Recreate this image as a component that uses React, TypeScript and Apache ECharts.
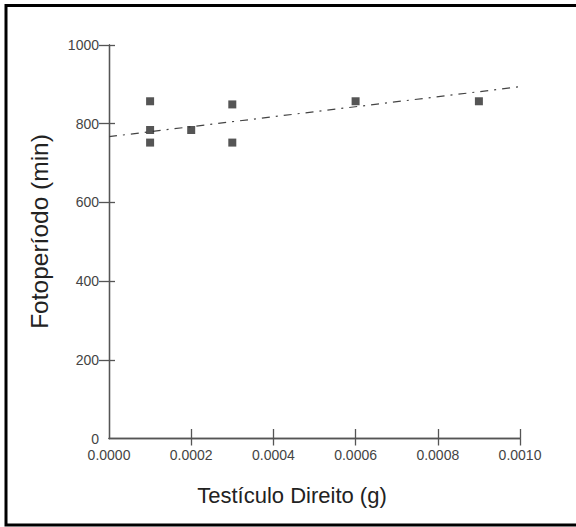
import React, { useEffect, useRef } from "react";
import * as echarts from "echarts";

const pointsX: number[] = [0.0001, 0.0001, 0.0001, 0.0002, 0.0003, 0.0003, 0.0006, 0.0009];
const pointsY: number[] = [857, 784, 752, 784, 849, 752, 857, 857];
const trendX: number[] = [0, 0.001];
const trendY: number[] = [767, 894];
const xTickValues: number[] = [0.0002, 0.0004, 0.0006, 0.0008, 0.001];
const yTickValues: number[] = [200, 400, 600, 800, 1000];
const xTitle = "Testículo Direito (g)";
const yTitle = "Fotoperíodo (min)";

const FONT = "'Liberation Sans', Arial, sans-serif";

export default function App() {
  const ref = useRef<HTMLDivElement>(null);
  useEffect(() => {
    if (!ref.current) return;
    const chart = echarts.init(ref.current, undefined, { renderer: "svg" });
    const grid = { left: 109, top: 45, right: 56, bottom: 88.5, containLabel: false };
    const axisLine = { show: true, lineStyle: { color: "#555", width: 1.3 } };
    const tickStyle = { color: "#555", width: 1.3 };
    const baseX = {
      type: "value" as const,
      min: 0,
      max: 0.001,
      interval: 0.0002,
      splitLine: { show: false },
      axisLine,
    };
    const baseY = {
      type: "value" as const,
      min: 0,
      max: 1000,
      interval: 200,
      splitLine: { show: false },
      axisLine,
    };
    chart.setOption({
      animation: false,
      backgroundColor: "#ffffff",
      grid: [grid, { ...grid }],
      xAxis: [
        {
          ...baseX,
          gridIndex: 0,
          axisTick: { show: true, inside: false, length: 7, customValues: xTickValues, lineStyle: tickStyle },
          axisLabel: {
            margin: 9,
            color: "#444",
            fontSize: 14,
            fontFamily: FONT,
            formatter: (v: number) => v.toFixed(4),
          },
        },
        {
          ...baseX,
          gridIndex: 1,
          axisTick: { show: true, inside: true, length: 9.5, customValues: xTickValues, lineStyle: tickStyle },
          axisLabel: { show: false },
        },
      ],
      yAxis: [
        {
          ...baseY,
          gridIndex: 0,
          axisTick: { show: true, inside: false, length: 10, customValues: yTickValues, lineStyle: tickStyle },
          axisLabel: {
            margin: 10,
            color: "#444",
            fontSize: 14,
            fontFamily: FONT,
            formatter: (v: number) => String(v),
          },
        },
        {
          ...baseY,
          gridIndex: 1,
          axisTick: { show: true, inside: true, length: 6, customValues: yTickValues, lineStyle: tickStyle },
          axisLabel: { show: false },
        },
      ],
      series: [
        {
          type: "line",
          xAxisIndex: 0,
          yAxisIndex: 0,
          data: trendX.map((x, i) => [x, trendY[i]]),
          showSymbol: false,
          symbol: "none",
          lineStyle: { color: "#444", width: 1.2, type: [8, 6, 2, 6] },
          z: 2,
        },
        {
          type: "scatter",
          xAxisIndex: 0,
          yAxisIndex: 0,
          data: pointsX.map((x, i) => [x, pointsY[i]]),
          symbol: "rect",
          symbolSize: 8,
          itemStyle: { color: "#2b2b2b" },
          z: 3,
        },
      ],
      graphic: [
        {
          type: "rect",
          shape: { x: 6, y: 5.5, width: 640, height: 519.5 },
          style: { fill: "none", stroke: "#000", lineWidth: 3 },
          silent: true,
        },
        {
          type: "text",
          x: 292,
          y: 495,
          style: { text: xTitle, fill: "#222", fontSize: 22, fontFamily: FONT, align: "center", verticalAlign: "middle" },
        },
        {
          type: "text",
          x: 39,
          y: 231.5,
          rotation: Math.PI / 2,
          style: { text: yTitle, fill: "#222", fontSize: 24.5, fontFamily: FONT, align: "center", verticalAlign: "middle" },
        },
      ],
    });
    return () => chart.dispose();
  }, []);
  return (
    <div
      ref={ref}
      style={{ position: "fixed", left: 0, top: 0, width: 576, height: 527, background: "#fff" }}
    />
  );
}
